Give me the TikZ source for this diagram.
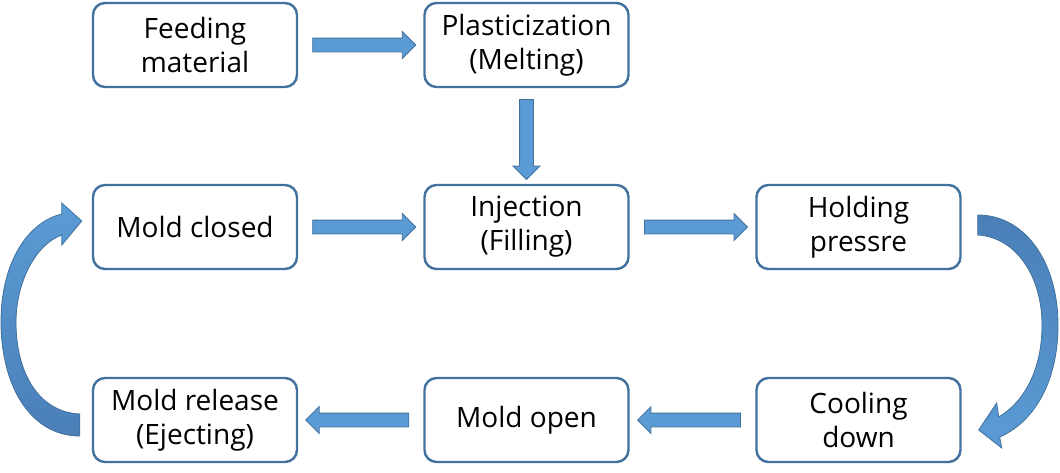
\documentclass[tikz,border=0pt]{standalone}
\usepackage{fontspec}
\setmainfont{Open Sans}
\usetikzlibrary{shapes.arrows,calc}
\definecolor{boxline}{HTML}{41719C}
\definecolor{arrfill}{HTML}{5B9BD5}
\definecolor{arrdark}{HTML}{4A7FB8}
\tikzset{
  stage/.style={draw=boxline, line width=2.4pt, rounded corners=12pt, fill=white,
    minimum width=204pt, minimum height=84pt, inner sep=0pt, align=center,
    font=\fontsize{28}{34}\selectfont},
  blockarrow/.style={single arrow, draw=boxline, fill=arrfill, line width=0.8pt,
    minimum height=103pt, inner xsep=0pt, inner ysep=6.5pt,
    text height=0pt, text depth=0pt, text width=0pt,
    single arrow head extend=6.5pt, single arrow tip angle=90,
    sloped, allow upside down},
  curvearrow/.style={draw=boxline, line width=0.8pt}
}
\begin{document}
\begin{tikzpicture}[x=1pt,y=-1pt]
\useasboundingbox (0,0) rectangle (1060,472);
\node[stage] (feed) at (195,45) {Feeding\\material};
\node[stage] (plast) at (526.5,45) {Plasticization\\(Melting)};
\node[stage] (closed) at (195,227) {Mold closed};
\node[stage] (inj) at (526.5,227) {Injection\\(Filling)};
\node[stage] (hold) at (858.5,227) {Holding\\pressre};
\node[stage] (release) at (195,420) {Mold release\\(Ejecting)};
\node[stage] (open) at (526.5,420) {Mold open};
\node[stage] (cool) at (858.5,420) {Cooling\\down};

\path (feed.east) -- (plast.west) node[midway, blockarrow] {};
\path (closed.east) -- (inj.west) node[midway, blockarrow] {};
\path (inj.east) -- (hold.west) node[midway, blockarrow] {};
\path (cool.west) -- (open.east) node[midway, blockarrow] {};
\path (open.west) -- (release.east) node[midway, blockarrow] {};
\path (plast.south) -- (inj.north) node[midway, blockarrow, minimum height=80pt] {};

% curved arrow: Mold release -> Mold closed
\coordinate (lt) at ($(release.west)+(-12,4)$);
\coordinate (lh) at ($(closed.west)+(-10,-6)$);
\shadedraw[curvearrow, top color=arrfill, bottom color=arrdark]
  ($(lt)+(0,12)$) .. controls (30,436) and (1,385) .. (1,322)
  .. controls (1,262) and (28,222) .. ($(lh)+(-20,-7)$)
  -- ($(lh)+(-20,-18)$) -- (lh) -- ($(lh)+(-20,24)$) -- ($(lh)+(-20,14)$)
  .. controls (36,244) and (16,282) .. (16,322)
  .. controls (16,372) and (38,412) .. ($(lt)+(0,-10)$) -- cycle;

% curved arrow: Holding pressre -> Cooling down
\coordinate (rt) at ($(hold.east)+(16,-2)$);
\coordinate (rh) at ($(cool.east)+(17,10)$);
\shadedraw[curvearrow, top color=arrdark, bottom color=arrfill]
  ($(rt)+(0,-10)$) .. controls (1025,215) and (1058,262) .. (1058,325)
  .. controls (1058,382) and (1034,422) .. ($(rh)+(21,7)$)
  -- ($(rh)+(23,18)$) -- (rh) -- ($(rh)+(18,-27)$) -- ($(rh)+(20,-13)$)
  .. controls (1024,402) and (1042,370) .. (1042,325)
  .. controls (1042,275) and (1015,237) .. ($(rt)+(0,10)$) -- cycle;
\end{tikzpicture}
\end{document}
